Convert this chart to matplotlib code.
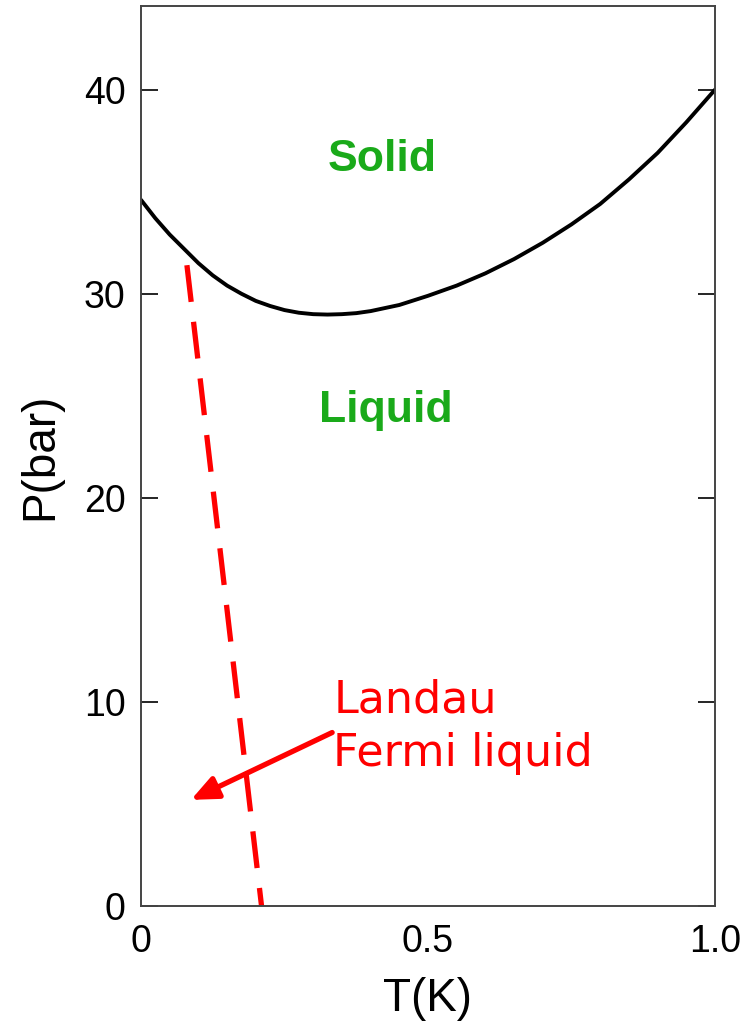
import matplotlib
matplotlib.use("Agg")
import matplotlib.pyplot as plt

# Melting curve of 3He
T_melt = [0.0, 0.025, 0.05, 0.075, 0.1, 0.125, 0.15, 0.175, 0.2, 0.225, 0.25, 0.275, 0.3, 0.325,
          0.35, 0.375, 0.4, 0.45, 0.5, 0.55, 0.6, 0.65, 0.7, 0.75, 0.8, 0.85, 0.9, 0.95, 1.0]
P_melt = [34.6, 33.7, 32.9, 32.2, 31.5, 30.9, 30.4, 30.0, 29.65, 29.4, 29.2, 29.07, 29.0, 28.98,
          29.0, 29.05, 29.15, 29.45, 29.9, 30.4, 31.0, 31.7, 32.5, 33.4, 34.4, 35.6, 36.9, 38.4, 40.0]

# Fermi liquid boundary (dashed)
T_fl = [0.08, 0.21]
P_fl = [31.4, 0.0]

# Arrow (tail -> head)
arrow_tail = (0.333, 8.5)
arrow_head = (0.087, 5.2)

xticks = [0, 0.5, 1.0]
xticklabels = ["0", "0.5", "1.0"]
yticks = [0, 10, 20, 30, 40]
yticklabels = ["0", "10", "20", "30", "40"]

fig = plt.figure(figsize=(7.43, 10.28), dpi=100)
ax = fig.add_axes([141/743, 1-906/1028, (715-141)/743, (906-6)/1028])

ax.plot(T_melt, P_melt, color="black", lw=2.8, solid_capstyle="round", solid_joinstyle="round")
ax.plot(T_fl, P_fl, color="#ff0000", lw=3.8, dashes=(7, 3.8))

ax.annotate("", xy=arrow_head, xytext=arrow_tail,
            arrowprops=dict(arrowstyle="-|>,head_length=1.6,head_width=0.7",
                            color="#ff0000", lw=3.8, shrinkA=0, shrinkB=0))

ax.text(0.335, 8.8, "Landau\nFermi liquid", color="#ff0000", fontsize=32,
        family="DejaVu Sans", ha="left", va="center", linespacing=1.3)
ax.text(0.42, 36.6, "Solid", color="#1aaa1a", fontsize=32, fontweight="bold",
        family="Liberation Sans", ha="center", va="center")
ax.text(0.427, 24.3, "Liquid", color="#1aaa1a", fontsize=32, fontweight="bold",
        family="Liberation Sans", ha="center", va="center")

ax.set_xlim(0, 1.0)
ax.set_ylim(0, 44.1)
ax.set_xticks(xticks)
ax.set_xticklabels(xticklabels, family="Liberation Sans", fontsize=27)
ax.set_yticks(yticks)
ax.set_yticklabels(yticklabels, family="Liberation Sans", fontsize=27)
ax.tick_params(axis="x", length=0, pad=13)
ax.tick_params(axis="y", direction="in", length=12, width=1.2, left=True, right=True, pad=11)

for s in ax.spines.values():
    s.set_linewidth(1.4)
    s.set_color("#444444")

ax.set_xlabel("T(K)", family="Liberation Sans", fontsize=33, labelpad=12)
ax.set_ylabel("P(bar)", family="Liberation Sans", fontsize=33, labelpad=16)

fig.savefig("out.png", dpi=100)
